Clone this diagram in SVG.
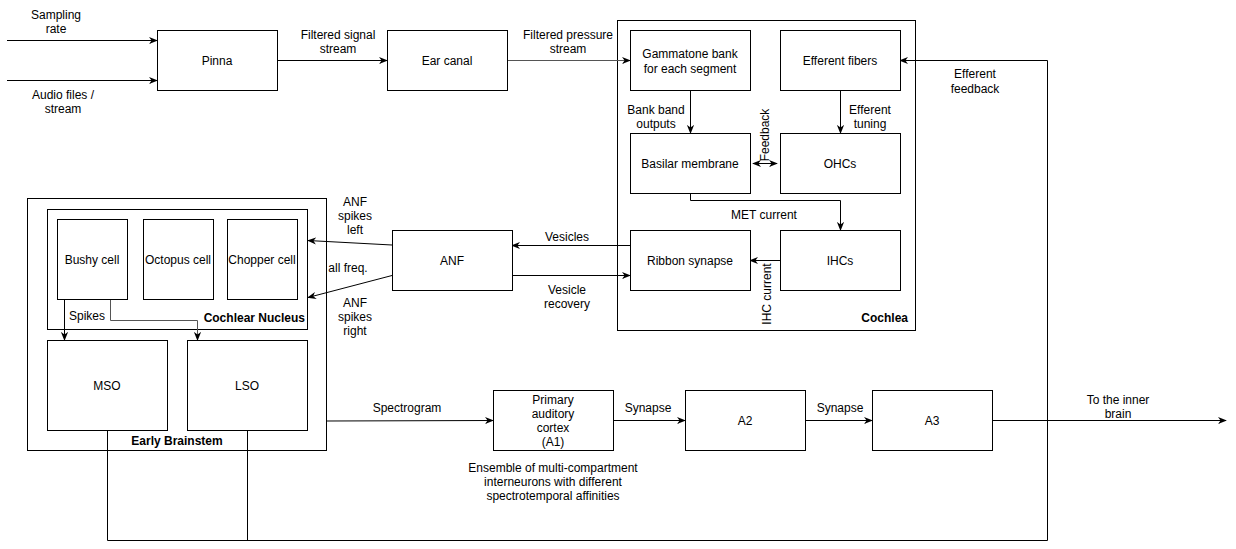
<svg xmlns="http://www.w3.org/2000/svg" width="1236" height="549" viewBox="0 0 1236 549">
<style>
text{font-family:"Liberation Sans",Arial,sans-serif;font-size:12px;fill:#000}
.c{text-anchor:middle}
.e{text-anchor:end}
.b{font-weight:bold}
.box{fill:#fff;stroke:#000;stroke-width:1}
.ct{fill:none;stroke:#000;stroke-width:1}
.ln{fill:none;stroke:#000;stroke-width:1}
.ar{fill:none;stroke:#000;stroke-width:1;marker-end:url(#ah)}
.gr{stroke:#555}
</style>
<defs>
<marker id="ah" viewBox="0 0 10 10" refX="9" refY="5" markerWidth="9" markerHeight="9" markerUnits="userSpaceOnUse" orient="auto">
<path d="M0,1 L10,5 L0,9 L3,5 z" fill="#000"/>
</marker>
<marker id="as" viewBox="0 0 10 10" refX="1" refY="5" markerWidth="9" markerHeight="9" markerUnits="userSpaceOnUse" orient="auto">
<path d="M10,1 L0,5 L10,9 L7,5 z" fill="#000"/>
</marker>
</defs>
<rect width="1236" height="549" fill="#fff"/>

<g id="cochlea"><rect class="ct" x="617.5" y="20.5" width="298" height="310"/><text class="e b" x="908" y="322">Cochlea</text></g>
<g id="early-brainstem"><rect class="ct" x="27.5" y="198.5" width="299" height="252"/><text class="c b" x="177" y="445">Early Brainstem</text></g>
<g id="cochlear-nucleus"><rect class="ct" x="47.5" y="209.5" width="260" height="120"/><text class="e b" x="305" y="322">Cochlear Nucleus</text></g>

<g id="connectors">
<line class="ar" x1="7" y1="40.5" x2="157" y2="40.5"/>
<line class="ar" x1="7" y1="80.5" x2="157" y2="80.5"/>
<line class="ar" x1="277" y1="60.5" x2="387" y2="60.5"/>
<line class="ar gr" x1="507" y1="60.5" x2="630" y2="60.5"/>
<line class="ar" x1="690.5" y1="90" x2="690.5" y2="133"/>
<line class="ar" x1="840.5" y1="90" x2="840.5" y2="133"/>
<line class="ln" x1="753" y1="163.5" x2="777" y2="163.5" marker-start="url(#as)" marker-end="url(#ah)"/>
<path class="ar" d="M690.5,193 V200.5 H840.5 V230"/>
<line class="ar" x1="780" y1="260.5" x2="750" y2="260.5"/>
<line class="ar" x1="630" y1="245.5" x2="512" y2="245.5"/>
<line class="ar" x1="512" y1="275.5" x2="630" y2="275.5"/>
<line class="ar" x1="392" y1="245" x2="308" y2="240.5"/>
<line class="ar" x1="392" y1="275.5" x2="308" y2="297.5"/>
<line class="ar" x1="64.5" y1="299" x2="64.5" y2="340"/>
<path class="ar gr" d="M110.5,299 V320.5 H197.5 V340"/>
<line class="ar" x1="326" y1="421" x2="493" y2="420.5"/>
<line class="ar" x1="613" y1="420.5" x2="685" y2="420.5"/>
<line class="ar" x1="805" y1="420.5" x2="872" y2="420.5"/>
<line class="ar" x1="992" y1="420.5" x2="1226" y2="420.5"/>
<path class="ln" d="M107.5,430 V540.5 H1047.5 V60.5"/>
<path class="ln" d="M247.5,430 V540.5"/>
<line class="ar" x1="1047.5" y1="60.5" x2="900" y2="60.5"/>
</g>

<g id="pinna"><rect class="box" x="157.5" y="30.5" width="120" height="60"/><text class="c" x="217" y="65">Pinna</text></g>
<g id="ear-canal"><rect class="box" x="387.5" y="30.5" width="120" height="60"/><text class="c" x="447" y="65">Ear canal</text></g>
<g id="gammatone"><rect class="box" x="630.5" y="30.5" width="120" height="60"/><text class="c" x="690" y="58">Gammatone bank</text><text class="c" x="690" y="73">for each segment</text></g>
<g id="efferent-fibers"><rect class="box" x="780.5" y="30.5" width="120" height="60"/><text class="c" x="840" y="65">Efferent fibers</text></g>
<g id="basilar"><rect class="box" x="630.5" y="133.5" width="120" height="60"/><text class="c" x="690" y="168">Basilar membrane</text></g>
<g id="ohcs"><rect class="box" x="780.5" y="133.5" width="120" height="60"/><text class="c" x="840" y="168">OHCs</text></g>
<g id="ribbon"><rect class="box" x="630.5" y="230.5" width="120" height="60"/><text class="c" x="690" y="265">Ribbon synapse</text></g>
<g id="ihcs"><rect class="box" x="780.5" y="230.5" width="120" height="60"/><text class="c" x="840" y="265">IHCs</text></g>
<g id="anf"><rect class="box" x="392.5" y="230.5" width="120" height="60"/><text class="c" x="452" y="265">ANF</text></g>
<g id="bushy"><rect class="box" x="57.5" y="219.5" width="70" height="80"/><text class="c" x="92" y="264">Bushy cell</text></g>
<g id="octopus"><rect class="box" x="143.5" y="219.5" width="70" height="80"/><text class="c" x="178" y="264">Octopus cell</text></g>
<g id="chopper"><rect class="box" x="227.5" y="219.5" width="70" height="80"/><text class="c" x="262" y="264">Chopper cell</text></g>
<g id="mso"><rect class="box" x="47.5" y="340.5" width="120" height="90"/><text class="c" x="107" y="390">MSO</text></g>
<g id="lso"><rect class="box" x="187.5" y="340.5" width="120" height="90"/><text class="c" x="247" y="390">LSO</text></g>
<g id="a1"><rect class="box" x="493.5" y="390.5" width="120" height="60"/><text class="c" x="553" y="404">Primary</text><text class="c" x="553" y="418">auditory</text><text class="c" x="553" y="432">cortex</text><text class="c" x="553" y="446">(A1)</text></g>
<g id="a2"><rect class="box" x="685.5" y="390.5" width="120" height="60"/><text class="c" x="745" y="425">A2</text></g>
<g id="a3"><rect class="box" x="872.5" y="390.5" width="120" height="60"/><text class="c" x="932" y="425">A3</text></g>

<g id="labels">
<text class="c" x="56" y="19">Sampling</text><text class="c" x="56" y="33">rate</text>
<text class="c" x="63" y="99">Audio files /</text><text class="c" x="63" y="113">stream</text>
<text class="c" x="338" y="39">Filtered signal</text><text class="c" x="338" y="53">stream</text>
<text class="c" x="568" y="39">Filtered pressure</text><text class="c" x="568" y="53">stream</text>
<text class="c" x="656" y="114">Bank band</text><text class="c" x="656" y="128">outputs</text>
<text class="c" x="870" y="114">Efferent</text><text class="c" x="870" y="128">tuning</text>
<text class="c" transform="translate(769,135) rotate(-90)">Feedback</text>
<text class="c" x="764" y="219">MET current</text>
<text class="c" transform="translate(771,294) rotate(-90)">IHC current</text>
<text class="c" x="975" y="78">Efferent</text><text class="c" x="975" y="93">feedback</text>
<text class="c" x="567" y="241">Vesicles</text>
<text class="c" x="567" y="294">Vesicle</text><text class="c" x="567" y="308">recovery</text>
<text class="c" x="355" y="206">ANF</text><text class="c" x="355" y="220">spikes</text><text class="c" x="355" y="234">left</text>
<text class="c" x="348" y="272">all freq.</text>
<text class="c" x="355" y="307">ANF</text><text class="c" x="355" y="321">spikes</text><text class="c" x="355" y="335">right</text>
<text class="c" x="87" y="320">Spikes</text>
<text class="c" x="407" y="412">Spectrogram</text>
<text class="c" x="648" y="412">Synapse</text>
<text class="c" x="840" y="412">Synapse</text>
<text class="c" x="1118" y="404">To the inner</text><text class="c" x="1118" y="418">brain</text>
<text class="c" x="553" y="472">Ensemble of multi-compartment</text>
<text class="c" x="553" y="486">interneurons with different</text>
<text class="c" x="553" y="500">spectrotemporal affinities</text>
</g>
</svg>
